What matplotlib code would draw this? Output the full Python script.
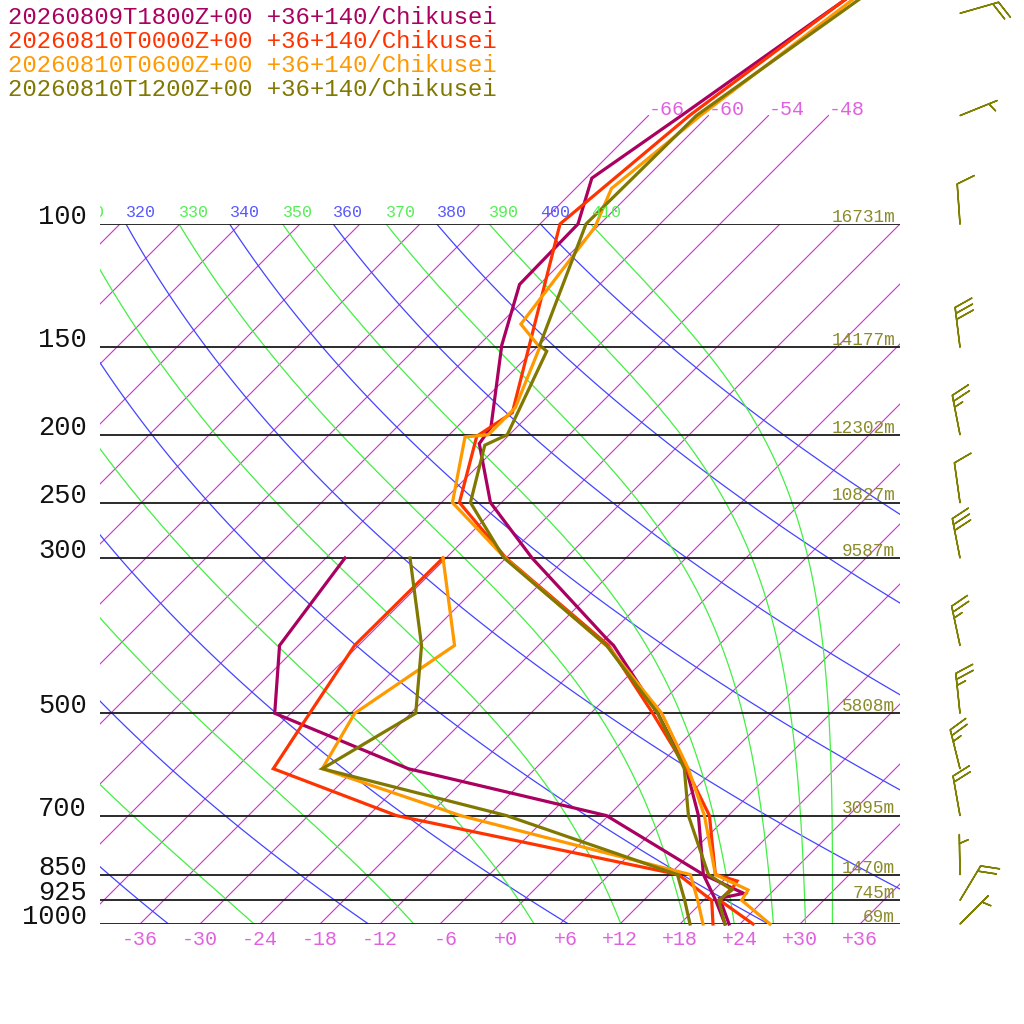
import numpy as np
import matplotlib
matplotlib.use('Agg')
import matplotlib.pyplot as plt
from matplotlib.transforms import Bbox, TransformedBbox

plt.rcParams['font.family'] = ['Liberation Mono', 'DejaVu Sans Mono']

# ---- data ----
runs = ['20260809T1800Z+00', '20260810T0000Z+00', '20260810T0600Z+00', '20260810T1200Z+00']
place = '+36+140/Chikusei'
run_colors = ['#aa0060', '#ff3300', '#ff9900', '#807800']

# temperature profiles (hPa, degC)
t1800_p = [1000, 919, 904, 850, 700, 600, 500, 400, 391, 300, 250, 206, 195, 149, 122, 100, 86, 70, 50, 40]
t1800_t = [22.9, 19.4, 21.3, 15.4, 9.0, 3.1, -5.3, -16.5, -17.9, -33.4, -43.1, -50.1, -50.6, -57.7, -62.0, -62.2, -65.4, -62.7, -58.5, -55.6]
t0000_p = [1000, 925, 884, 868, 850, 700, 600, 500, 400, 300, 250, 201, 186, 100, 70, 50, 40]
t0000_t = [25.3, 19.6, 19.6, 19.4, 16.6, 10.1, 3.1, -5.8, -17.0, -36.0, -46.2, -51.1, -49.9, -64.0, -61.9, -58.4, -56.1]
t0600_p = [1000, 925, 894, 850, 700, 600, 500, 404, 300, 250, 201.5, 200, 183, 150, 139, 101, 89, 70, 50, 40]
t0600_t = [27.0, 21.8, 21.4, 16.6, 9.6, 3.3, -4.9, -16.6, -36.1, -46.9, -52.2, -50.1, -50.1, -53.7, -57.9, -60.2, -62.4, -60.8, -57.6, -55.5]
t1200_p = [1000, 925, 894, 850, 700, 600, 500, 400, 300, 250, 207, 200, 152, 149, 100, 70, 50, 40]
t1200_t = [22.5, 19.5, 19.8, 15.9, 8.0, 2.9, -5.3, -17.2, -36.2, -45.1, -49.4, -48.2, -52.6, -53.9, -61.4, -61.2, -57.1, -54.4]

# dew point profiles
dew_p = [1000, 925, 850, 700, 600, 500, 400, 300]
d1800_t = [22.5, 19.2, 15.4, -0.2, -24.7, -43.6, -49.9, -52.1]
d0000_t = [21.3, 18.8, 12.9, -21.2, -38.2, -40.1, -42.4, -42.3]
d0600_t = [20.3, 17.4, 14.1, -14.8, -33.3, -35.6, -32.4, -42.3]
d1200_t = [19.0, 16.1, 12.8, -10.2, -33.3, -29.5, -35.7, -45.6]

# pressure lines and heights of the last run
plevs = [1000, 925, 850, 700, 500, 300, 250, 200, 150, 100]
heights = [69, 745, 1470, 3095, 5808, 9587, 10827, 12302, 14177, 16731]

# winds of the last run (direction from, knots)
wind_p = [1000, 925, 850, 700, 600, 500, 400, 300, 250, 200, 150, 100, 70, 50]
wind_dir = [45, 31, 359, 350, 346, 354, 348, 349, 352, 349, 353, 356, 68, 74]
wind_spd = [5, 20, 5, 20, 25, 25, 25, 30, 10, 25, 30, 10, 5, 20]

iso_temps = list(range(-108, 37, 6))
upper_isos = [-66, -60, -54, -48]
dry_thetas = list(range(220, 401, 20))
moist_thetas = list(range(230, 411, 20))
label_min = 310  # lower labels fall left of the frame

SKEW = 700 / np.log(10) / 10


def skx(t, p):
    return np.asarray(t, dtype=float) + SKEW * np.log(1000.0 / np.asarray(p, dtype=float))


def theta_e_sat(tk, p):
    tc = tk - 273.15
    es = 6.112 * np.exp(17.67 * tc / (tc + 243.5))
    r = 622.0 * es / np.maximum(p - es, 1e-6)
    th = tk * (1000.0 / p) ** (0.2854 * (1 - 0.00028 * r)) * \
        np.exp((3.376 / tk - 0.00254) * r * (1 + 0.00081 * r))
    return np.where(es < 0.5 * p, th, np.inf)


def moist_t(the, p):
    lo = np.full_like(p, 150.0)
    hi = np.full_like(p, 330.0)
    for _ in range(60):
        mid = 0.5 * (lo + hi)
        f = theta_e_sat(mid, p)
        lo = np.where(f < the, mid, lo)
        hi = np.where(f >= the, mid, hi)
    return 0.5 * (lo + hi) - 273.15


fig = plt.figure(figsize=(10.24, 10.24), dpi=100)
ax = fig.add_axes([100 / 1024, 100 / 1024, 800 / 1024, 700 / 1024])
ax.set_yscale('log')
ax.set_xlim(-40, 40)
ax.set_ylim(1000, 100)
ax.axis('off')

clipbox = TransformedBbox(Bbox([[0, 0], [1.6, 1.6]]), ax.transAxes)

# isotherms
for t in iso_temps:
    ax.plot(skx([t, t], [1000, 100]), [1000, 100], color='#cc33cc', lw=0.8)
for t in upper_isos:
    ax.plot(skx([t, t], [100, 70]), [100, 70], color='#cc33cc', lw=0.8, clip_on=False)
    ax.text(skx(t, 70), 68.7, f'{t:+d}', color='#e060e0', fontsize=14.4,
            ha='left', va='center', clip_on=False)
for t in range(-36, 37, 6):
    ax.annotate(f'{t:+d}', (t + 1.75, 1000), xytext=(0, -4), textcoords='offset points',
                ha='right', va='top', color='#e060e0', fontsize=14.4, annotation_clip=False)

pp = np.geomspace(1000, 100, 120)
# dry adiabats
for th in dry_thetas:
    tt = th * (pp / 1000.0) ** 0.2857 - 273.15
    ax.plot(skx(tt, pp), pp, color='#4444ff', lw=0.9)
    if th >= label_min:
        lab = ax.annotate(str(th), (skx(tt[-1], 100), 100), xytext=(0, 3), textcoords='offset points',
                          ha='left', va='bottom', color='#5858ff', fontsize=12, annotation_clip=False)
        lab.set_clip_box(clipbox)
        lab.set_clip_on(True)
# moist adiabats
for th in moist_thetas:
    tt = moist_t(th, pp)
    ax.plot(skx(tt, pp), pp, color='#44ee44', lw=0.9)
    if th >= label_min:
        lab = ax.annotate(str(th), (skx(tt[-1], 100), 100), xytext=(0, 3), textcoords='offset points',
                          ha='left', va='bottom', color='#55ee55', fontsize=12, annotation_clip=False)
        lab.set_clip_box(clipbox)
        lab.set_clip_on(True)

# pressure lines
ax.hlines(plevs, -40, 40, colors='#1a1a1a', lw=1.3)
for p, h in zip(plevs, heights):
    ax.text(-41.3, p, str(p), ha='right', va='baseline', fontsize=19.5, color='#111111', clip_on=False)
    ax.annotate(f'{h}m', (39.5, p), xytext=(0, 1.5), textcoords='offset points',
                ha='right', va='baseline', fontsize=12.8, color='#8b8b2b')

# soundings
temps = [(t1800_p, t1800_t), (t0000_p, t0000_t), (t0600_p, t0600_t), (t1200_p, t1200_t)]
dews = [d1800_t, d0000_t, d0600_t, d1200_t]
for (tp, tt), dt, c in zip(temps, dews, run_colors):
    ax.plot(skx(tt, tp), tp, color=c, lw=2.3, clip_on=False, solid_joinstyle='miter')
    ax.plot(skx(dt, dew_p), dew_p, color=c, lw=2.3, clip_on=False, solid_joinstyle='miter')

# wind barbs
wd = np.radians(wind_dir)
ws = np.array(wind_spd, dtype=float)
u = -ws * np.sin(wd)
v = -ws * np.cos(wd)
ax.barbs(np.full(len(wind_p), 46.0), wind_p, u, v, length=7.6, color='#808000', lw=1.1,
         clip_on=False, sizes=dict(spacing=0.15, height=0.44, width=0.36))

# titles
for i, (r, c) in enumerate(zip(runs, run_colors)):
    fig.text(8 / 1024, 1 - (18 + 23.7 * i) / 1024, f'{r} {place}', color=c,
             fontsize=17.3, ha='left', va='center')

fig.savefig('out.png', dpi=100)
